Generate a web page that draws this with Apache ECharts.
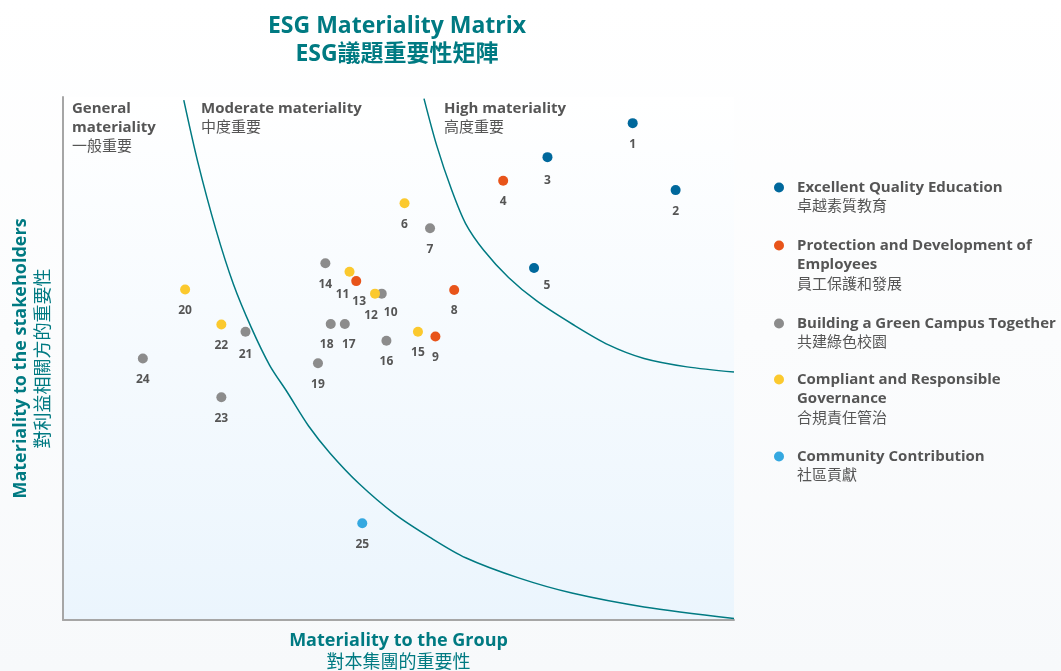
<!DOCTYPE html>
<html><head><meta charset="utf-8">
<script src="https://cdn.jsdelivr.net/npm/echarts@6/dist/echarts.min.js"></script>
<style>html,body{margin:0;padding:0;background:#fff}#c{width:1061px;height:671px}</style>
</head><body><div id="c"></div>
<script>
// ---------- DATA ----------
const categoryEn = ['Excellent Quality Education','Protection and Development of Employees','Building a Green Campus Together','Compliant and Responsible Governance','Community Contribution'];
const categoryZh = ['卓越素質教育','員工保護和發展','共建綠色校園','合規責任管治','社區貢獻'];
const legendLinesEn = [['Excellent Quality Education'],['Protection and Development of','Employees'],['Building a Green Campus Together'],['Compliant and Responsible','Governance'],['Community Contribution']];
const pointIds   = [1,2,3,4,5,6,7,8,9,10,11,12,13,14,15,16,17,18,19,20,21,22,23,24,25];
const pointGroup = [0,0,0,1,0,3,2,1,1,2,3,3,1,2,3,2,2,2,2,3,2,3,2,2,4];
const pointX = [84.9,91.3,72.2,65.6,70.2,50.9,54.7,58.3,55.5,47.5,42.7,46.5,43.7,39.1,52.9,48.2,42.0,39.9,38.0,18.2,27.2,23.6,23.6,11.9,44.6];
const pointY = [95.0,82.2,88.5,84.0,67.3,79.7,74.9,63.1,54.2,62.4,66.6,62.4,64.8,68.2,55.1,53.4,56.6,56.6,49.1,63.2,55.1,56.5,42.6,50.0,18.5];
// boundary curves
const innerCurveX = [18.0,20.1,22.8,25.4,28.1,30.8,33.4,36.6,39.8,44.1,49.4,54.7,60.0,68.0,76.0,86.6,100];
const innerCurveY = [99.4,87.5,74.6,64.2,55.8,48.7,43.6,37.1,31.9,26.1,20.3,15.8,11.9,8.0,5.1,2.5,0.3];
const outerCurveX = [53.8,55.7,57.9,60.0,62.7,66.4,70.6,76.0,81.3,86.6,93.0,100];
const outerCurveY = [99.7,90.7,82.3,75.8,70.7,65.5,61.0,56.5,52.6,50.0,48.4,47.4];

// ---------- STYLE ----------
const colors = ['#00689c','#e8541a','#8c8c8c','#fbc92e','#35a8e0'];
const teal = '#007a82';
const txt = '#555555';
const FF = '"Open Sans","Noto Sans","Noto Sans CJK TC",sans-serif';
const labelNudge = {3:[0,2],5:[13,-3],10:[9,-2],11:[-7,2],12:[-4,1],13:[3,-1],17:[4,0],18:[-4,0],21:[0,2]};
const legendTops = [180,238,316,372,449];
const L = 19.5;

const series = categoryEn.map((name, g) => ({
  name, type: 'scatter', symbol: 'circle', symbolSize: 10,
  itemStyle: {color: colors[g], opacity: 1},
  label: {show: true, position: 'bottom', distance: 10, color: txt, fontSize: 12, fontWeight: 'bold', fontFamily: FF,
          formatter: p => p.value[2]},
  data: pointIds.map((id, i) => ({id, i})).filter(o => pointGroup[o.i] === g).map(o => ({
    value: [pointX[o.i], pointY[o.i], o.id],
    label: labelNudge[o.id] ? {offset: labelNudge[o.id]} : undefined
  }))
}));
const curveStyle = {type: 'line', smooth: 0.3, showSymbol: false, silent: true, lineStyle: {color: teal, width: 1.5}, z: 1};
series.push(Object.assign({name: 'inner', data: innerCurveX.map((x, i) => [x, innerCurveY[i]])}, curveStyle));
series.push(Object.assign({name: 'outer', data: outerCurveX.map((x, i) => [x, outerCurveY[i]])}, curveStyle));

const legends = categoryEn.map((name, g) => {
  const lines = legendLinesEn[g];
  const n = lines.length + 1;
  return {
    data: [{name, icon: 'circle', itemStyle: {color: colors[g], opacity: 1}}], left: 774, top: legendTops[g], padding: 0,
    itemWidth: 10, itemHeight: 10, selectedMode: false,
    formatter: () => lines.map(s => '{en|' + s + '}').join('\n') + '\n{zh|' + categoryZh[g] + '}',
    textStyle: {padding: [(n - 1) * L, 0, 0, 8], rich: {
      en: {fontSize: 15, fontWeight: 'bold', color: txt, lineHeight: L, fontFamily: FF},
      zh: {fontSize: 15, color: txt, lineHeight: L, fontFamily: FF}
    }}
  };
});

const regionRich = {
  en: {fontSize: 15, fontWeight: 'bold', fill: txt, lineHeight: 19, fontFamily: FF},
  zh: {fontSize: 15, fill: txt, lineHeight: 19, fontFamily: FF}
};

const option = {
  backgroundColor: {type: 'linear', x: 0, y: 0, x2: 0, y2: 1, colorStops: [{offset: 0, color: '#ffffff'}, {offset: 1, color: '#f7f9fb'}]},
  title: {
    text: 'ESG Materiality Matrix\nESG議題重要性矩陣', left: 392, top: 7, textAlign: 'center',
    textStyle: {color: teal, fontSize: 23, fontWeight: 'bold', lineHeight: 28, fontFamily: FF}
  },
  grid: {left: 63, right: 327, top: 97, bottom: 51, show: true, borderWidth: 0, containLabel: false, outerBoundsMode: 'none',
    backgroundColor: {type: 'linear', x: 0, y: 0, x2: 0, y2: 1, colorStops: [{offset: 0, color: '#ffffff'}, {offset: 1, color: '#ebf5fd'}]}},
  xAxis: {type: 'value', min: 0, max: 100,
    axisLine: {show: true, lineStyle: {color: '#a6a6a6', width: 2}}, axisTick: {show: false}, axisLabel: {show: false}, splitLine: {show: false},
    name: '{en|Materiality to the Group}\n{zh|對本集團的重要性}', nameLocation: 'middle', nameGap: 10,
    nameTextStyle: {rich: {
      en: {fontSize: 18, fontWeight: 'bold', color: teal, lineHeight: 22, fontFamily: FF},
      zh: {fontSize: 18, color: teal, lineHeight: 22, fontFamily: FF}}}
  },
  yAxis: {type: 'value', min: 0, max: 100,
    axisLine: {show: true, lineStyle: {color: '#a6a6a6', width: 2}}, axisTick: {show: false}, axisLabel: {show: false}, splitLine: {show: false},
    name: '{en|Materiality to the stakeholders}\n{zh|對利益相關方的重要性}', nameLocation: 'middle', nameGap: 8, nameRotate: 90,
    nameTextStyle: {rich: {
      en: {fontSize: 18, fontWeight: 'bold', color: teal, lineHeight: 23, fontFamily: FF},
      zh: {fontSize: 18, color: teal, lineHeight: 23, fontFamily: FF}}}
  },
  legend: legends,
  graphic: [
    {type: 'text', left: 72, top: 101, style: {text: '{en|General}\n{en|materiality}\n{zh|一般重要}', rich: regionRich}},
    {type: 'text', left: 201, top: 101, style: {text: '{en|Moderate materiality}\n{zh|中度重要}', rich: regionRich}},
    {type: 'text', left: 444, top: 101, style: {text: '{en|High materiality}\n{zh|高度重要}', rich: regionRich}}
  ],
  series
};
const chart = echarts.init(document.getElementById('c'));
chart.setOption(option);
</script></body></html>
